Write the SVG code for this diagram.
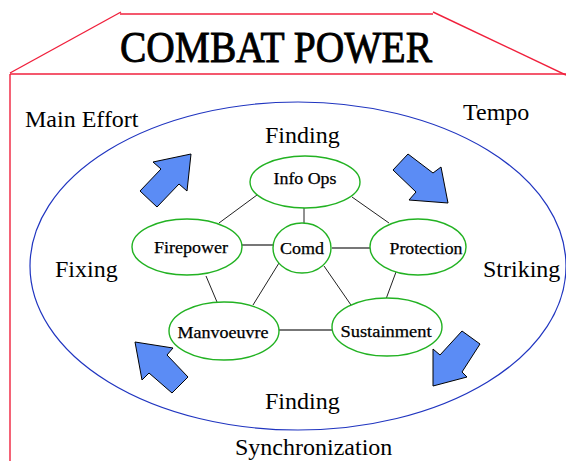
<svg xmlns="http://www.w3.org/2000/svg" width="566" height="461" viewBox="0 0 566 461">
<style>
.frame{fill:none;stroke:#f0203c;stroke-width:1.4}
.big{font-family:"Liberation Serif",serif;font-size:24px;fill:#000}
.node ellipse{fill:#fff;stroke:#22b222;stroke-width:1.4}
.node text{font-family:"Liberation Serif",serif;font-size:16px;fill:#000;stroke:#000;stroke-width:0.25;text-anchor:middle}
.arrow{fill:#5b8cf5;stroke:#000;stroke-width:1;stroke-linejoin:miter}
.ln{stroke:#222;stroke-width:1}
.lg{stroke:#777;stroke-width:2}
</style>
<rect width="566" height="461" fill="#fff"/>
<g id="frame">
<path class="frame" d="M120,14 H433"/>
<path class="frame" d="M121,12 L10,73"/>
<path class="frame" d="M433,12 L566,75"/>
<path class="frame" d="M10,74 H566"/>
<path class="frame" d="M10,74 V461"/>
</g>
<text x="276" y="62" font-family="Liberation Serif,serif" font-size="44" stroke="#000" stroke-width="0.9" textLength="312" lengthAdjust="spacingAndGlyphs" text-anchor="middle">COMBAT POWER</text>
<ellipse id="tempo-ring" cx="298" cy="266" rx="268" ry="164" fill="none" stroke="#2035c0" stroke-width="1.2"/>
<g id="labels">
<text class="big" x="25" y="127">Main Effort</text>
<text class="big" x="463" y="120">Tempo</text>
<text class="big" x="265" y="143">Finding</text>
<text class="big" x="55" y="277">Fixing</text>
<text class="big" x="483" y="277">Striking</text>
<text class="big" x="265" y="409">Finding</text>
<text class="big" x="235" y="455">Synchronization</text>
</g>
<g id="arrows">
<polygon class="arrow" points="191,154 153,162 161,169 140,191 157,207 179,184 187,191"/>
<polygon class="arrow" points="448,203 441,167 433,173 408,154 393,170 416,192 409,200"/>
<polygon class="arrow" points="135,342 173,348 167,355 188,377 172,393 149,373 142,380"/>
<polygon class="arrow" points="433,386 433,349 440,355 462,331 480,344 462,372 467,377"/>
</g>
<g id="connectors">
<line class="ln" x1="257" y1="195" x2="219" y2="223"/>
<line class="ln" x1="304" y1="207" x2="304" y2="224"/>
<line class="ln" x1="352" y1="197" x2="389" y2="223"/>
<line class="lg" x1="242" y1="245" x2="273" y2="245"/>
<line class="lg" x1="332" y1="248" x2="370" y2="248"/>
<line class="ln" x1="206" y1="276" x2="217" y2="302"/>
<line class="ln" x1="279" y1="263" x2="253" y2="305"/>
<line class="ln" x1="324" y1="266" x2="351" y2="305"/>
<line class="ln" x1="396" y1="272" x2="386" y2="299"/>
<line class="lg" x1="279" y1="330" x2="332" y2="330"/>
</g>
<g id="info-ops" class="node"><ellipse cx="305" cy="182" rx="55" ry="26"/><text x="305" y="184" textLength="63" lengthAdjust="spacingAndGlyphs">Info Ops</text></g>
<g id="firepower" class="node"><ellipse cx="187" cy="247" rx="55" ry="28"/><text x="191" y="253" textLength="74" lengthAdjust="spacingAndGlyphs">Firepower</text></g>
<g id="comd" class="node"><ellipse cx="302" cy="248" rx="29" ry="25"/><text x="302" y="254" textLength="44" lengthAdjust="spacingAndGlyphs">Comd</text></g>
<g id="protection" class="node"><ellipse cx="418" cy="247" rx="48" ry="28"/><text x="426" y="254" textLength="73" lengthAdjust="spacingAndGlyphs">Protection</text></g>
<g id="manvoeuvre" class="node"><ellipse cx="224" cy="331" rx="55" ry="29"/><text x="223" y="338" textLength="91" lengthAdjust="spacingAndGlyphs">Manvoeuvre</text></g>
<g id="sustainment" class="node"><ellipse cx="387" cy="327" rx="55" ry="29"/><text x="386" y="337" textLength="91" lengthAdjust="spacingAndGlyphs">Sustainment</text></g>
</svg>
